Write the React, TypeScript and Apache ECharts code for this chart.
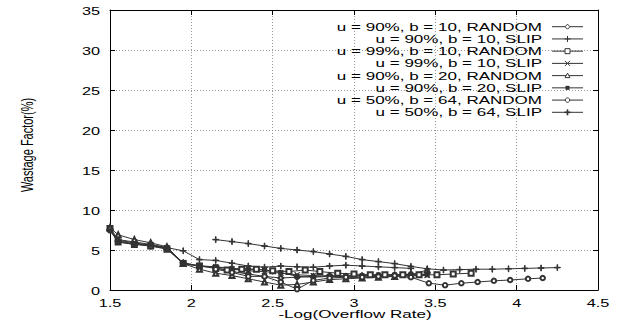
import React, { useEffect, useRef } from "react";
import * as echarts from "echarts";

const seriesNames = [
  "u = 90%, b = 10, RANDOM",
  "u = 90%, b = 10, SLIP",
  "u = 99%, b = 10, RANDOM",
  "u = 99%, b = 10, SLIP",
  "u = 90%, b = 20, RANDOM",
  "u = 90%, b = 20, SLIP",
  "u = 50%, b = 64, RANDOM",
  "u = 50%, b = 64, SLIP",
];

const s1x = [1.5, 1.55, 1.65, 1.75, 1.85, 1.95, 2.05, 2.15, 2.25, 2.35, 2.45, 2.55, 2.65, 2.75, 2.85, 2.95, 3.05, 3.15, 3.25, 3.35];
const s1y = [7.6, 6.1, 5.8, 5.5, 5.2, 3.4, 3.0, 2.8, 2.3, 2.0, 1.7, 1.5, 1.6, 1.7, 1.8, 1.7, 1.8, 1.8, 1.9, 1.9];

const s2x = [1.5, 1.55, 1.65, 1.75, 1.85, 1.95, 2.05, 2.15, 2.25, 2.35, 2.45, 2.55, 2.65, 2.75, 2.85, 2.95, 3.05, 3.15, 3.25, 3.35];
const s2y = [7.5, 6.2, 5.9, 5.6, 5.3, 4.9, 3.8, 3.7, 3.35, 3.0, 2.85, 3.0, 2.9, 2.85, 3.0, 3.1, 3.0, 2.9, 2.8, 2.7];

const s3x = [1.5, 1.55, 1.65, 1.75, 1.85, 1.95, 2.05, 2.15, 2.22, 2.31, 2.4, 2.5, 2.6, 2.7, 2.79, 2.9, 3.0, 3.1, 3.19, 3.3, 3.4, 3.51, 3.61, 3.72];
const s3y = [7.7, 6.0, 5.7, 5.5, 5.1, 3.3, 3.0, 2.7, 2.5, 2.6, 2.6, 2.4, 2.3, 2.5, 2.3, 2.1, 2.0, 1.9, 1.9, 1.9, 1.9, 1.9, 2.0, 2.1];

const s4x = [1.5, 1.55, 1.65, 1.75, 1.85, 1.95, 2.05, 2.15, 2.25, 2.35, 2.45, 2.55, 2.65, 2.75, 2.85, 2.95, 3.05, 3.15, 3.25, 3.35, 3.45];
const s4y = [7.8, 6.3, 6.0, 5.7, 5.3, 3.4, 3.0, 2.9, 2.6, 2.4, 2.3, 2.1, 1.9, 1.8, 1.7, 1.6, 1.6, 1.7, 1.7, 1.8, 1.8];

const s5x = [1.5, 1.55, 1.65, 1.75, 1.85, 1.95, 2.05, 2.15, 2.25, 2.35, 2.45, 2.55, 2.65, 2.75, 2.85, 2.95, 3.05, 3.15, 3.25, 3.35, 3.45];
const s5y = [7.8, 6.9, 6.3, 5.9, 5.4, 3.3, 2.6, 2.1, 1.8, 1.4, 1.0, 0.6, 0.7, 1.0, 1.3, 1.4, 1.5, 1.6, 1.7, 1.9, 2.5];

const s6x = [1.5, 1.55, 1.65, 1.75, 1.85, 1.95, 2.05, 2.15, 2.25, 2.35, 2.45, 2.55, 2.65, 2.75, 2.85, 2.95, 3.05, 3.15, 3.25, 3.35, 3.45];
const s6y = [7.4, 6.0, 5.7, 5.6, 5.2, 3.3, 3.0, 2.9, 2.7, 2.6, 2.5, 2.2, 1.7, 1.6, 1.7, 1.8, 1.8, 1.9, 1.9, 2.0, 1.9];

const s7x = [2.15, 2.25, 2.35, 2.45, 2.55, 2.65, 2.75, 2.85, 2.95, 3.05, 3.15, 3.25, 3.35, 3.46, 3.56, 3.66, 3.76, 3.86, 3.96, 4.07, 4.16];
const s7y = [2.6, 2.2, 1.7, 1.7, 1.0, 0.1, 1.2, 1.5, 1.6, 1.6, 1.7, 1.8, 1.6, 0.85, 0.6, 0.85, 1.0, 1.15, 1.25, 1.4, 1.5];

const s8x = [2.15, 2.25, 2.35, 2.45, 2.55, 2.65, 2.75, 2.85, 2.95, 3.05, 3.15, 3.25, 3.35, 3.45, 3.55, 3.65, 3.75, 3.85, 3.95, 4.05, 4.15, 4.25];
const s8y = [6.3, 6.05, 5.8, 5.5, 5.2, 5.0, 4.8, 4.5, 4.2, 3.8, 3.55, 3.3, 2.95, 2.65, 2.5, 2.55, 2.6, 2.6, 2.65, 2.7, 2.75, 2.8];

const xTicks = [1.5, 2, 2.5, 3, 3.5, 4, 4.5];
const yTicks = [0, 5, 10, 15, 20, 25, 30, 35];
const xName = "-Log(Overflow Rate)";
const yName = "Wastage Factor(%)";

const allX = [s1x, s2x, s3x, s4x, s5x, s6x, s7x, s8x];
const allY = [s1y, s2y, s3y, s4y, s5y, s6y, s7y, s8y];

const PLUS = "path://M4.5,0h1v4.5h4.5v1h-4.5v4.5h-1v-4.5h-4.5v-1h4.5z";
const CROSS = "path://M0.7,0L5,4.3L9.3,0L10,0.7L5.7,5L10,9.3L9.3,10L5,5.7L0.7,10L0,9.3L4.3,5L0,0.7z";
const symbols = ["emptyDiamond", PLUS, "emptyRect", CROSS, "emptyTriangle", "rect", "emptyCircle", PLUS];
const sizes = [5, 6, 5, 5, 5, 4, 4.5, 6];

const FONT = "Liberation Sans";
const STRETCH = 1.48;
const LINE = "#333";

function txt(text: string, x: number, y: number, size: number, align: string, extra: any = {}) {
  return {
    type: "text",
    x,
    y,
    scaleX: STRETCH,
    silent: true,
    z: 100,
    ...extra,
    style: {
      text,
      x: 0,
      y: 0,
      fill: "#000",
      fontSize: size,
      fontFamily: FONT,
      align,
      textAlign: align,
      verticalAlign: "middle",
      textVerticalAlign: "middle",
    },
  };
}

function legendMarker(i: number, cx: number, cy: number): any[] {
  const st = { stroke: LINE, lineWidth: 1, fill: "#fff" };
  const ln = (x1: number, y1: number, x2: number, y2: number, w = 1) => ({
    type: "line",
    z: 101,
    silent: true,
    shape: { x1, y1, x2, y2 },
    style: { stroke: LINE, lineWidth: w },
  });
  switch (i) {
    case 0:
      return [{ type: "polygon", z: 101, silent: true, shape: { points: [[cx, cy - 2.5], [cx + 2.5, cy], [cx, cy + 2.5], [cx - 2.5, cy]] }, style: st }];
    case 1:
    case 7:
      return [ln(cx - 3, cy, cx + 3, cy, i === 7 ? 1.6 : 1), ln(cx, cy - 3, cx, cy + 3, i === 7 ? 1.6 : 1)];
    case 2:
      return [{ type: "rect", z: 101, silent: true, shape: { x: cx - 2.5, y: cy - 2.5, width: 5, height: 5 }, style: st }];
    case 3:
      return [ln(cx - 2.5, cy - 2.5, cx + 2.5, cy + 2.5), ln(cx - 2.5, cy + 2.5, cx + 2.5, cy - 2.5)];
    case 4:
      return [{ type: "polygon", z: 101, silent: true, shape: { points: [[cx, cy - 2.5], [cx + 2.5, cy + 2], [cx - 2.5, cy + 2]] }, style: st }];
    case 5:
      return [{ type: "rect", z: 101, silent: true, shape: { x: cx - 2, y: cy - 2, width: 4, height: 4 }, style: { fill: LINE } }];
    default:
      return [{ type: "circle", z: 101, silent: true, shape: { cx, cy, r: 2.2 }, style: st }];
  }
}

export default function App() {
  const ref = useRef<HTMLDivElement>(null);
  useEffect(() => {
    if (!ref.current) return;
    document.body.style.margin = "0";
    const chart = echarts.init(ref.current, undefined, { renderer: "svg" });
    const axisCommon = {
      type: "value" as const,
      axisLine: { show: true, onZero: false, lineStyle: { color: "#000", width: 1 } },
      axisTick: { show: true, inside: true, length: 5, lineStyle: { color: "#000" } },
      axisLabel: { show: false },
    };
    chart.setOption({
      animation: false,
      backgroundColor: "#fff",
      grid: { left: 110, right: 23, top: 10, bottom: 34, containLabel: false },
      xAxis: [
        {
          ...axisCommon,
          min: 1.5,
          max: 4.5,
          interval: 0.5,
          position: "bottom",
          splitLine: { show: true, lineStyle: { color: "#999", type: [1, 2], width: 1 } },
        },
        { ...axisCommon, min: 1.5, max: 4.5, interval: 0.5, position: "top", splitLine: { show: false } },
      ],
      yAxis: [
        {
          ...axisCommon,
          min: 0,
          max: 35,
          interval: 5,
          position: "left",
          splitLine: { show: true, lineStyle: { color: "#999", type: [1, 2], width: 1 } },
        },
        { ...axisCommon, min: 0, max: 35, interval: 5, position: "right", splitLine: { show: false } },
      ],
      series: seriesNames.map((name, i) => ({
        name,
        type: "line",
        data: allX[i].map((x, j) => [x, allY[i][j]]),
        symbol: symbols[i],
        symbolSize: sizes[i],
        showAllSymbol: true,
        lineStyle: { color: LINE, width: 1 },
        itemStyle: { color: LINE, borderColor: LINE, borderWidth: 1 },
        z: 3,
      })),
    });

    const elements: any[] = [];
    xTicks.forEach((v) => {
      const px = chart.convertToPixel({ xAxisIndex: 0 }, v) as number;
      elements.push(txt(String(v), px, 303, 11, "center"));
    });
    yTicks.forEach((v) => {
      const py = chart.convertToPixel({ yAxisIndex: 0 }, v) as number;
      elements.push(txt(String(v), 100, py + 1, 11, "right"));
    });
    elements.push(txt(xName, 355, 314, 11.5, "center"));
    elements.push(txt(yName, 27, 145, 11, "center", { scaleX: 1, scaleY: STRETCH, rotation: Math.PI / 2 }));
    // legend
    const rowTop = 26.7;
    const rowStep = 12.23;
    seriesNames.forEach((name, i) => {
      const cy = rowTop + i * rowStep;
      elements.push(txt(name, 542, cy, 11.5, "right"));
      elements.push({
        type: "line",
        z: 100,
        silent: true,
        shape: { x1: 552, y1: cy, x2: 583, y2: cy },
        style: { stroke: LINE, lineWidth: 1 },
      });
      legendMarker(i, 567.5, cy).forEach((e) => elements.push(e));
    });
    chart.setOption({ graphic: { elements } });
    return () => chart.dispose();
  }, []);
  return <div ref={ref} style={{ width: 621, height: 324 }} />;
}
